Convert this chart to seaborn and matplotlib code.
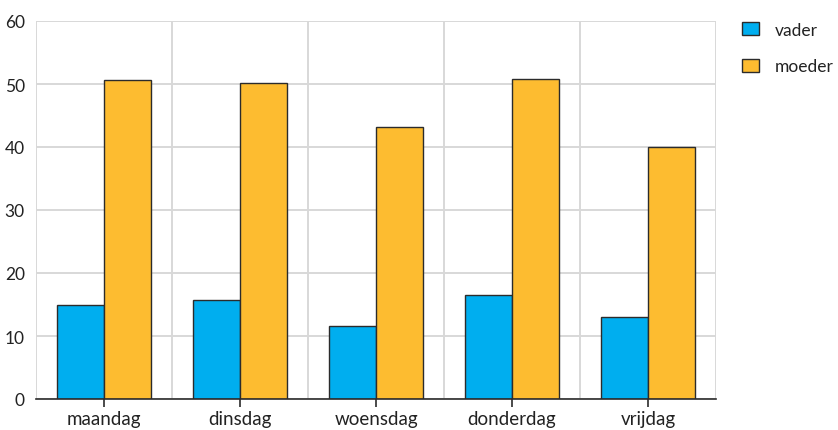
import matplotlib
matplotlib.use("Agg")
import matplotlib.pyplot as plt
from matplotlib.patches import Patch
from matplotlib.ticker import FixedLocator
import seaborn as sns
import pandas as pd

days = ["maandag", "dinsdag", "woensdag", "donderdag", "vrijdag"]
vader = [15.0, 15.7, 11.6, 16.5, 13.0]
moeder = [50.6, 50.2, 43.1, 50.8, 40.0]
series = ["vader", "moeder"]
colors = ["#00AEEF", "#FDBC30"]
yticks = [0, 10, 20, 30, 40, 50, 60]

df = pd.DataFrame({
    "dag": days * 2,
    "ouder": ["vader"] * len(days) + ["moeder"] * len(days),
    "waarde": vader + moeder,
})

sns.set_theme(style="white")
plt.rcParams["font.family"] = ["Lato", "DejaVu Sans"]

fig = plt.figure(figsize=(8.38, 4.31), dpi=100)
ax = fig.add_axes([36 / 838, 31 / 431, 680 / 838, 378 / 431])

sns.barplot(data=df, x="dag", y="waarde", hue="ouder", order=days,
            hue_order=series, palette=colors, width=0.69, gap=0,
            edgecolor="#2b2b2b", linewidth=1.0, ax=ax, legend=False,
            errorbar=None, saturation=1)

ax.set_xlim(-0.5, len(days) - 0.5)
ax.set_ylim(0, 60)
ax.set_yticks(yticks)
ax.set_xlabel("")
ax.set_ylabel("")

# horizontal grid at the y ticks, vertical grid between the categories
ax.xaxis.set_minor_locator(FixedLocator([i - 0.5 for i in range(len(days) + 1)]))
ax.grid(axis="y", which="major", color="#d8d8d8", linewidth=1.4)
ax.grid(axis="x", which="minor", color="#d8d8d8", linewidth=1.4)
ax.grid(axis="x", which="major", visible=False)
ax.set_axisbelow(True)

for side in ["top", "right", "left"]:
    ax.spines[side].set_visible(False)
ax.spines["bottom"].set_color("#2b2b2b")
ax.spines["bottom"].set_linewidth(1.2)

ax.tick_params(axis="x", which="major", bottom=True, length=6, width=1.2,
               color="#2b2b2b", labelsize=13.5, labelcolor="#222222", pad=2)
ax.tick_params(axis="x", which="minor", bottom=False)
ax.tick_params(axis="y", left=False, length=0, labelsize=12.5,
               labelcolor="#222222", pad=8)

handles = [Patch(facecolor=c, edgecolor="#2b2b2b", linewidth=1.0) for c in colors]
fig.legend(handles, series, loc="upper left", bbox_to_anchor=(726 / 838, 1 - 7 / 431),
           frameon=False, fontsize=12.5, handlelength=1.0, handleheight=0.8,
           labelspacing=1.2, handletextpad=0.9, labelcolor="#222222")

fig.savefig("out.png", dpi=100)
